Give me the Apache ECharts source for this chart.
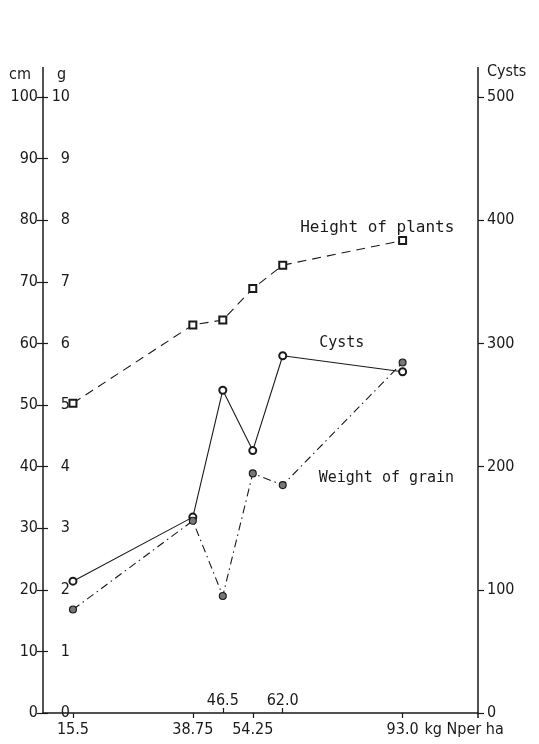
<!DOCTYPE html>
<html>
<head>
<meta charset="utf-8">
<script src="https://cdn.jsdelivr.net/npm/echarts@6/dist/echarts.min.js"></script>
<style>
  html, body { margin: 0; padding: 0; background: #fff; }
  #chart { width: 539px; height: 744px; }
</style>
</head>
<body>
<div id="chart"></div>
<script>
// Nitrogen rates (kg N per ha) and where each one sits on the horizontal axis;
// the lowest rate is drawn closer to the origin than its value.
const doseLabels = ['15.5', '38.75', '46.5', '54.25', '62.0', '93.0'];
const dosePositions = [7.75, 38.75, 46.5, 54.25, 62.0, 93.0];
const labelsBelow = ['15.5', '38.75', '54.25', '93.0'];
const labelsAbove = ['46.5', '62.0'];

// Measured responses
const plantHeightCm = [50.3, 63.0, 63.8, 68.9, 72.7, 76.7];
const cystCount = [107, 159, 262, 213, 290, 277];
const grainWeightG = [1.68, 3.12, 1.90, 3.89, 3.70, 5.69];

const INK = '#1a1a1a';
const TICK_FONT = "'DejaVu Sans Condensed', 'Liberation Sans', sans-serif";
const NOTE_FONT = "'DejaVu Sans Mono', 'Liberation Mono', monospace";

const posOf = lbl => dosePositions[doseLabels.indexOf(lbl)];
const labelAt = v => {
  const i = dosePositions.findIndex(p => Math.abs(p - v) < 1e-6);
  return i >= 0 ? doseLabels[i] : '';
};

function seriesData(values, noteIndex, note) {
  return values.map((v, i) => {
    const pt = [dosePositions[i], v];
    return i === noteIndex ? { value: pt, label: note } : pt;
  });
}

function note(text, pos, size) {
  return {
    show: true, formatter: text, position: pos, align: 'left', verticalAlign: 'top',
    fontFamily: NOTE_FONT, fontSize: size, color: INK
  };
}

const tickText = { fontFamily: TICK_FONT, fontSize: 16, color: INK };
const axisInk = { color: INK, width: 1.5 };

const chart = echarts.init(document.getElementById('chart'), null, { renderer: 'canvas' });

chart.setOption({
  animation: false,
  backgroundColor: '#fff',
  grid: { left: 43, right: 61, top: 97, bottom: 31, containLabel: false },
  xAxis: [
    {
      type: 'value', min: 0, max: 112.5, position: 'bottom',
      axisLine: { show: true, lineStyle: axisInk },
      splitLine: { show: false },
      axisTick: { show: true, inside: false, length: 5, lineStyle: { color: INK, width: 1.2 },
        customValues: labelsBelow.map(posOf) },
      axisLabel: Object.assign({ customValues: labelsBelow.map(posOf), formatter: labelAt, margin: 9 }, tickText),
      name: 'kg Nper ha', nameLocation: 'end', nameGap: -54,
      nameTextStyle: Object.assign({ align: 'left', verticalAlign: 'top', padding: [9, 0, 0, 0] }, tickText)
    },
    {
      type: 'value', min: 0, max: 112.5, position: 'bottom', offset: 0,
      axisLine: { show: false },
      splitLine: { show: false },
      axisTick: { show: true, inside: true, length: 5, lineStyle: { color: INK, width: 1.2 },
        customValues: labelsAbove.map(posOf) },
      axisLabel: Object.assign({ inside: true, customValues: labelsAbove.map(posOf), formatter: labelAt, margin: 4 }, tickText)
    }
  ],
  yAxis: [
    {
      // plant height, cm
      type: 'value', min: 0, max: 100, interval: 10, position: 'left',
      axisLine: { show: true, lineStyle: axisInk },
      splitLine: { show: false },
      axisTick: { show: true, inside: false, length: 6, lineStyle: { color: INK, width: 1.2 } },
      axisLabel: Object.assign({ margin: 5 }, tickText),
      name: 'cm', nameLocation: 'end', nameGap: 14,
      nameTextStyle: Object.assign({ align: 'right', padding: [0, 12, 0, 0] }, tickText)
    },
    {
      // grain weight, g
      type: 'value', min: 0, max: 10, interval: 1, position: 'left',
      axisLine: { show: false },
      splitLine: { show: false },
      axisTick: { show: true, inside: true, length: 5, lineStyle: { color: INK, width: 1.2 } },
      axisLabel: Object.assign({ inside: true, align: 'right', margin: 27 }, tickText),
      name: 'g', nameLocation: 'end', nameGap: 14,
      nameTextStyle: Object.assign({ align: 'left', padding: [0, 0, 0, 14] }, tickText)
    },
    {
      // cyst count
      type: 'value', min: 0, max: 500, interval: 100, position: 'right',
      axisLine: { show: true, lineStyle: axisInk },
      splitLine: { show: false },
      axisTick: { show: true, inside: false, length: 6, lineStyle: { color: INK, width: 1.2 } },
      axisLabel: Object.assign({ margin: 9 }, tickText),
      name: 'Cysts', nameLocation: 'end', nameGap: 17,
      nameTextStyle: Object.assign({ align: 'left', padding: [0, 0, 0, 9] }, tickText)
    }
  ],
  series: [
    {
      name: 'Height of plants', type: 'line', xAxisIndex: 0, yAxisIndex: 0,
      data: seriesData(plantHeightCm, 4, note('Height of plants', [22, -41], 16)),
      symbol: 'emptyRect', symbolSize: 7,
      lineStyle: { color: INK, width: 1.1, type: [9, 6] },
      itemStyle: { color: INK, borderColor: INK, borderWidth: 1.1 },
      label: { show: false }
    },
    {
      name: 'Cysts', type: 'line', xAxisIndex: 0, yAxisIndex: 2,
      data: seriesData(cystCount, 4, note('Cysts', [41, -16], 15)),
      symbol: 'emptyCircle', symbolSize: 7,
      lineStyle: { color: INK, width: 1.1, type: 'solid' },
      itemStyle: { color: INK, borderColor: INK, borderWidth: 1.1 },
      label: { show: false }
    },
    {
      name: 'Weight of grain', type: 'line', xAxisIndex: 0, yAxisIndex: 1,
      data: seriesData(grainWeightG, 4, note('Weight of grain', [40, -10], 15)),
      symbol: 'circle', symbolSize: 7,
      lineStyle: { color: INK, width: 1.1, type: [8, 4, 1.5, 4] },
      itemStyle: { color: '#777', borderColor: INK, borderWidth: 1.1 },
      label: { show: false }
    }
  ]
});

// Carry both vertical axis lines a little above the top tick, as in the drawing.
const leftX = chart.convertToPixel({ xAxisIndex: 0 }, 0);
const rightX = chart.convertToPixel({ xAxisIndex: 0 }, 112.5);
const topY = chart.convertToPixel({ yAxisIndex: 0 }, 100);
const baseY = chart.convertToPixel({ yAxisIndex: 0 }, 0);
chart.setOption({
  graphic: [
    { type: 'line', shape: { x1: leftX, y1: topY - 30, x2: leftX, y2: topY }, style: { stroke: INK, lineWidth: 1.5 } },
    { type: 'line', shape: { x1: rightX, y1: topY - 30, x2: rightX, y2: topY }, style: { stroke: INK, lineWidth: 1.5 } },
    { type: 'line', shape: { x1: rightX, y1: baseY, x2: rightX, y2: baseY + 5 }, style: { stroke: INK, lineWidth: 1.5 } }
  ]
});
</script>
</body>
</html>
